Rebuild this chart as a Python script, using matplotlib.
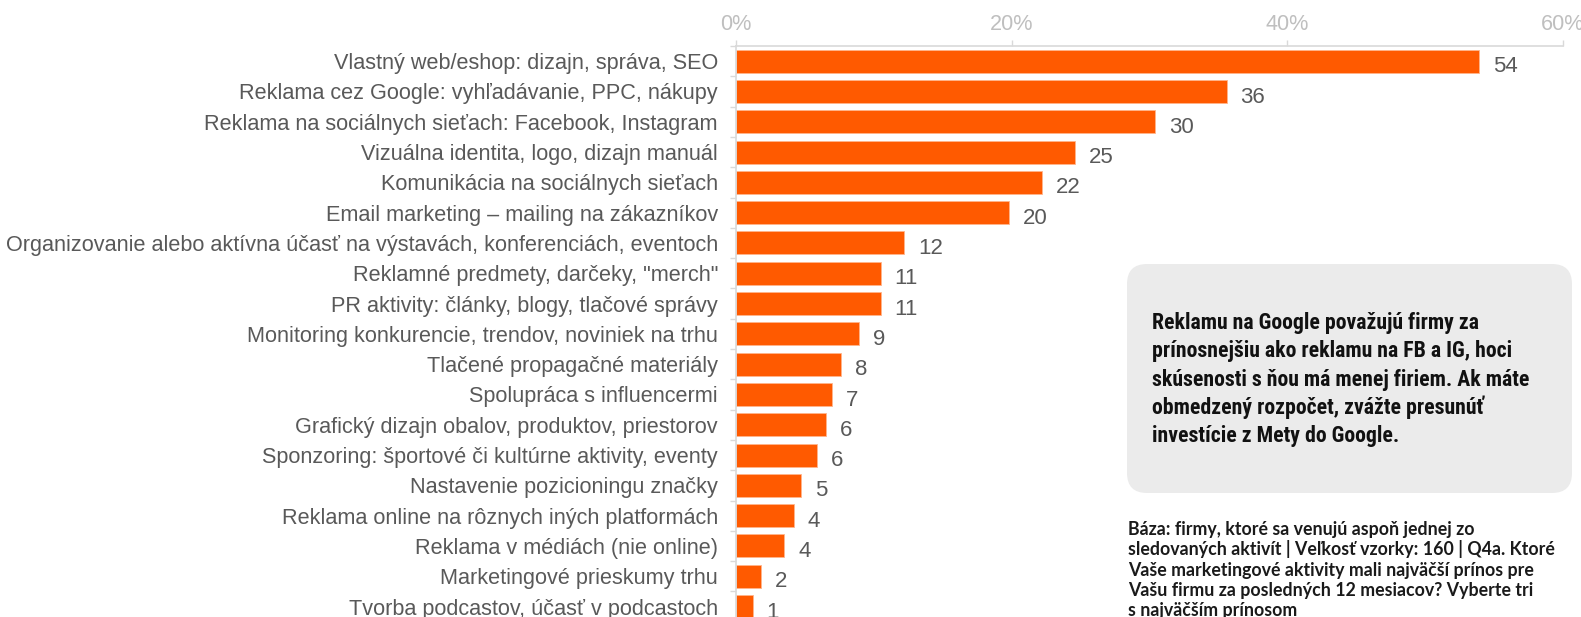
import numpy as np
import matplotlib.pyplot as plt
from matplotlib.patches import FancyBboxPatch

OUT = "out.png"

categories = [
    "Vlastný web/eshop: dizajn, správa, SEO",
    "Reklama cez Google: vyhľadávanie, PPC, nákupy",
    "Reklama na sociálnych sieťach: Facebook, Instagram",
    "Vizuálna identita, logo, dizajn manuál",
    "Komunikácia na sociálnych sieťach",
    "Email marketing – mailing na zákazníkov",
    "Organizovanie alebo aktívna účasť na výstavách, konferenciách, eventoch",
    "Reklamné predmety, darčeky, \"merch\"",
    "PR aktivity: články, blogy, tlačové správy",
    "Monitoring konkurencie, trendov, noviniek na trhu",
    "Tlačené propagačné materiály",
    "Spolupráca s influencermi",
    "Grafický dizajn obalov, produktov, priestorov",
    "Sponzoring: športové či kultúrne aktivity, eventy",
    "Nastavenie pozicioningu značky",
    "Reklama online na rôznych iných platformách",
    "Reklama v médiách (nie online)",
    "Marketingové prieskumy trhu",
    "Tvorba podcastov, účasť v podcastoch",
]
# bar lengths (% of firms)
shares = [53.9, 35.6, 30.4, 24.6, 22.2, 19.8, 12.2, 10.5, 10.5, 8.9,
          7.6, 7.0, 6.5, 5.9, 4.7, 4.2, 3.5, 1.8, 1.2]
# rounded values printed next to the bars
shown = [54, 36, 30, 25, 22, 20, 12, 11, 11, 9, 8, 7, 6, 6, 5, 4, 4, 2, 1]
xticks = [0, 20, 40, 60]

note_lines = [
    "Reklamu na Google považujú firmy za",
    "prínosnejšiu ako reklamu na FB a IG, hoci",
    "skúsenosti s ňou má menej firiem. Ak máte",
    "obmedzený rozpočet, zvážte presunúť",
    "investície z Mety do Google.",
]
base_lines = [
    "Báza: firmy, ktoré sa venujú aspoň jednej zo",
    "sledovaných aktivít | Veľkosť vzorky: 160 | Q4a. Ktoré",
    "Vaše marketingové aktivity mali najväčší prínos pre",
    "Vašu firmu za posledných 12 mesiacov? Vyberte tri",
    "s najväčším prínosom",
]

ORANGE = "#FF5A00"
GREY_TXT = "#595959"
AXIS_C = "#D9D9D9"
FS = 15.6

W, H = 1581, 617
fig = plt.figure(figsize=(W / 100, H / 100), dpi=100)
plt.rcParams["font.family"] = ["Liberation Sans", "DejaVu Sans"]

# axes placed in pixel terms: 0% at x=736, 60% at x=1563, top at y=46
left, right = 736 / W, 1563 / W
top = 1 - 46 / H
height = 19 * 30.3 / H
ax = fig.add_axes([left, top - height, right - left, height])

y = np.arange(len(categories))
ax.barh(y, shares, height=0.76, color=ORANGE, edgecolor="#FFB58C", linewidth=0.6)
ax.set_ylim(len(categories) - 0.5, -0.5)
ax.set_xlim(0, 60)

# value labels sit a touch below the bar middle, as in the source
for yi, v, s in zip(y, shares, shown):
    ax.annotate(str(s), (v, yi), textcoords="offset points", xytext=(10, -8),
                va="baseline", ha="left", fontsize=16, color=GREY_TXT)

ax.xaxis.tick_top()
ax.set_xticks(xticks)
ax.set_xticklabels([f"{t}%" for t in xticks])
ax.tick_params(axis="x", colors=AXIS_C, labelcolor="#BFBFBF", labelsize=FS,
               length=4, width=1, pad=4)

ax.set_yticks(y)
ax.set_yticklabels(categories)
ax.set_yticks(np.arange(-0.5, len(categories), 1), minor=True)
ax.tick_params(axis="y", which="major", length=0, pad=13, labelsize=FS,
               labelcolor=GREY_TXT)
ax.tick_params(axis="y", which="minor", length=4, width=1, color=AXIS_C)

for side in ["right", "bottom"]:
    ax.spines[side].set_visible(False)
for side in ["top", "left"]:
    ax.spines[side].set_color(AXIS_C)
    ax.spines[side].set_linewidth(1.2)

# grey call-out box (drawn in inches so the rounded corners stay round)
box = FancyBboxPatch((11.27, 1.24), 4.45, 2.29,
                     boxstyle="round,pad=0,rounding_size=0.2",
                     transform=fig.dpi_scale_trans, facecolor="#EBEBEB",
                     edgecolor="none", zorder=0)
fig.patches.append(box)

narrow = ["Roboto Condensed", "Liberation Sans Narrow", "Open Sans Condensed",
          "Roboto", "DejaVu Sans"]
note_txt = []
for i, line in enumerate(note_lines):
    t = fig.text(1152 / W, 1 - (329 + i * 28.35) / H, line, ha="left",
                 va="baseline", fontsize=14, fontweight="bold",
                 fontstretch="condensed", color="#111111", family=narrow)
    note_txt.append(t)

# the call-out font is a stand-in, so size it to the width of the widest line
fig.canvas.draw()
w3 = note_txt[2].get_window_extent().width
for t in note_txt:
    t.set_fontsize(14 * 378 / w3)

for i, line in enumerate(base_lines):
    fig.text(1128 / W, 1 - (535 + i * 20.3) / H, line, ha="left",
             va="baseline", fontsize=12.8, fontweight="bold", color="#1a1a1a",
             family=["Lato", "DejaVu Sans"])

fig.savefig(OUT, dpi=100)
